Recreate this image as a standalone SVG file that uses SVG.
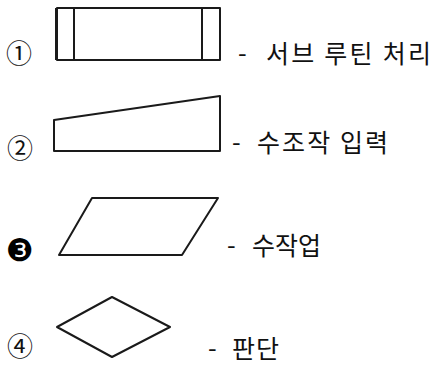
<svg xmlns="http://www.w3.org/2000/svg" width="435" height="365" viewBox="0 0 435 365">
<style>
.shape{fill:#fff;stroke:#1a1a1a;stroke-width:2;stroke-linejoin:round}
.lbl{font-family:"Noto Sans CJK KR","Noto Sans",sans-serif;font-size:25px;fill:#111}
.num{font-family:"Noto Sans CJK KR","DejaVu Sans",sans-serif;font-size:26px;fill:#111}
</style>
<rect width="435" height="365" fill="#fff"/>
<g id="node1">
<rect class="shape" x="57" y="8" width="163" height="52"/>
<line class="shape" x1="74" y1="8" x2="74" y2="60"/>
<line class="shape" x1="202" y1="8" x2="202" y2="60"/>
<line class="shape" x1="56" y1="8" x2="56" y2="60" stroke-width="3"/>
<text class="num" x="6" y="63">①</text>
<text class="lbl" x="238" y="62">-</text>
<text class="lbl" x="266" y="63" textLength="165" lengthAdjust="spacing">서브 루틴 처리</text>
</g>
<g id="node2">
<polygon class="shape" points="54,120 220,96 220,151 54,151"/>
<line class="shape" x1="54" y1="120" x2="54" y2="151" stroke-width="3"/>
<text class="num" x="7" y="158">②</text>
<text class="lbl" x="232" y="151">-</text>
<text class="lbl" x="257" y="152" textLength="131" lengthAdjust="spacing">수조작 입력</text>
</g>
<g id="node3">
<polygon class="shape" points="92,198 218,198 182,255 59,255"/>
<text x="6" y="261" style="font-family:'DejaVu Sans',sans-serif;font-size:31px;fill:#000">❸</text>
<text class="lbl" x="227" y="254">-</text>
<text class="lbl" x="252" y="255" textLength="69" lengthAdjust="spacing">수작업</text>
</g>
<g id="node4">
<polygon class="shape" points="57,327 112,297 170,327 112,357"/>
<text class="num" x="7" y="356">④</text>
<text class="lbl" x="208" y="357">-</text>
<text class="lbl" x="232" y="358" textLength="47" lengthAdjust="spacing">판단</text>
</g>
<g id="connectors"/>
</svg>
